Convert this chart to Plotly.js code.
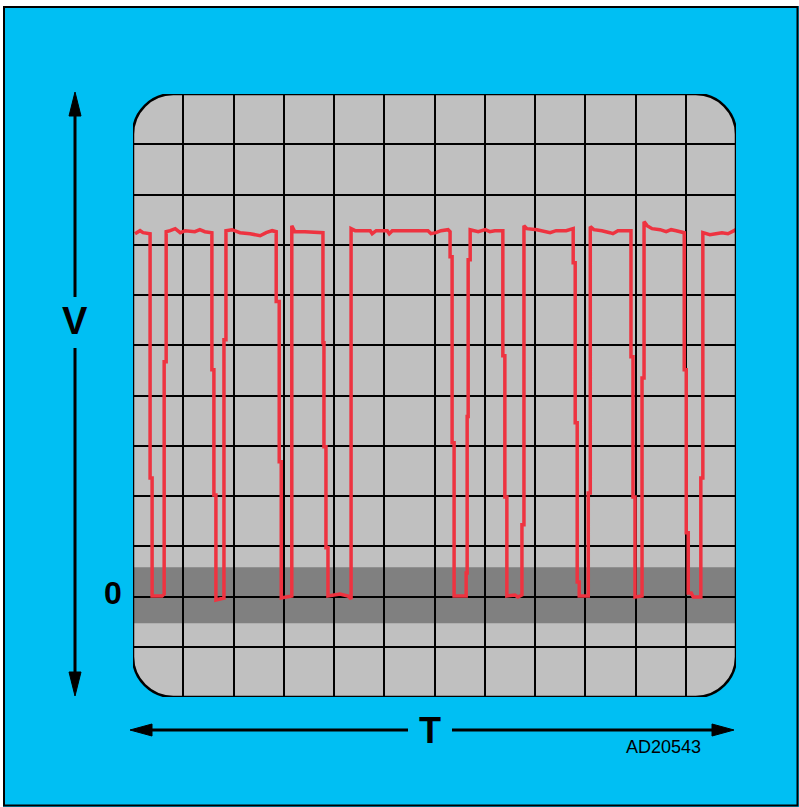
<!DOCTYPE html>
<html>
<head>
<meta charset="utf-8">
<script src="https://cdn.plot.ly/plotly-3.0.1.min.js"></script>
<style>html,body{margin:0;padding:0;background:#fff;}#chart{width:799px;height:807px;}</style>
</head>
<body>
<div id="chart"></div>
<script>
// Waveform samples, in screen divisions (x: 0..12, y: 0 = zero line)
const sigX = [0.04,0.14,0.20,0.34,0.34,0.38,0.38,0.58,0.62,0.62,0.66,0.66,0.74,0.84,0.94,1.04,1.23,1.33,1.43,1.57,
  1.57,1.61,1.61,1.65,1.65,1.81,1.81,1.85,1.85,1.97,2.13,2.33,2.53,2.65,2.77,2.85,2.85,2.91,2.91,2.95,
  2.95,3.16,3.16,3.22,3.42,3.62,3.78,3.78,3.80,3.80,3.84,3.84,3.88,3.88,4.12,4.28,4.34,4.34,4.42,4.72,
  4.76,4.84,5.06,5.10,5.16,5.87,5.93,6.03,6.13,6.27,6.31,6.31,6.35,6.35,6.39,6.39,6.63,6.63,6.65,6.65,
  6.67,6.67,6.71,6.71,6.87,7.01,7.10,7.20,7.36,7.36,7.40,7.40,7.44,7.44,7.60,7.66,7.74,7.74,7.78,7.78,
  7.84,8.04,8.20,8.30,8.42,8.62,8.76,8.76,8.80,8.80,8.84,8.84,8.88,8.88,9.06,9.06,9.10,9.10,9.17,9.33,
  9.49,9.55,9.65,9.91,9.91,9.95,9.95,9.99,9.99,10.13,10.13,10.17,10.17,10.23,10.33,10.49,10.61,10.71,10.81,10.97,
  10.97,11.01,11.01,11.05,11.05,11.11,11.15,11.30,11.30,11.34,11.34,11.48,11.60,11.72,11.84,11.94,12.0];
const sigY = [7.22,7.28,7.24,7.22,2.36,2.36,0.01,0.01,0.05,4.67,4.67,7.26,7.28,7.32,7.24,7.28,7.26,7.30,7.26,7.24,
  4.51,4.51,2.02,2.02,-0.07,-0.03,5.11,5.11,7.28,7.30,7.24,7.22,7.18,7.24,7.28,7.26,5.87,5.87,2.68,2.68,
  -0.03,0.01,7.38,7.26,7.26,7.24,7.24,5.05,5.05,2.98,2.98,0.97,0.97,0.01,0.05,0.01,-0.05,7.32,7.28,7.28,
  7.22,7.28,7.28,7.22,7.28,7.28,7.22,7.24,7.28,7.30,7.26,6.76,6.76,3.06,3.06,0.01,0.01,0.47,0.47,3.58,
  3.58,6.70,6.70,7.30,7.26,7.30,7.26,7.28,7.28,4.79,4.79,1.98,1.98,0.01,0.03,-0.01,0.03,1.43,1.43,7.38,
  7.32,7.30,7.26,7.24,7.28,7.28,7.32,6.64,6.64,3.46,3.46,0.29,0.29,0.01,0.01,2.06,2.06,7.36,7.30,7.28,
  7.24,7.22,7.28,7.28,4.77,4.77,1.98,1.98,-0.01,0.01,4.35,4.35,7.46,7.38,7.32,7.30,7.26,7.30,7.28,7.24,
  4.51,4.51,1.27,1.27,0.07,0.07,-0.01,-0.01,2.36,2.36,7.24,7.20,7.22,7.24,7.22,7.26,7.30];

// Screen geometry (divisions)
const xRange = [0, 12];
const yRange = [-2, 10];
const band = [-0.53, 0.58];
const cornerR = 0.8;

// Labels
const vLabel = 'V';
const zeroLabel = '0';
const tLabel = 'T';
const codeLabel = 'AD20543';

// pixel -> paper helpers (plot area is 133..736 x 94..697)
const L = 133, T = 94, S = 603;
const PX = p => (p - L) / S;
const PY = p => (T + S - p) / S;

const k = 0.5523 * cornerR;
const r = cornerR;
const x0 = xRange[0], x1 = xRange[1], y0 = yRange[0], y1 = yRange[1];
const screenPath = `M ${x0+r},${y1} L ${x1-r},${y1} C ${x1-r+k},${y1} ${x1},${y1-r+k} ${x1},${y1-r} ` +
  `L ${x1},${y0+r} C ${x1},${y0+r-k} ${x1-r+k},${y0} ${x1-r},${y0} ` +
  `L ${x0+r},${y0} C ${x0+r-k},${y0} ${x0},${y0+r-k} ${x0},${y0+r} ` +
  `L ${x0},${y1-r} C ${x0},${y1-r+k} ${x0+r-k},${y1} ${x0+r},${y1} Z`;
const e = 0.05;
const masks = [
  `M ${x0-e},${y1+e} L ${x0+r},${y1+e} L ${x0+r},${y1} C ${x0+r-k},${y1} ${x0},${y1-r+k} ${x0},${y1-r} L ${x0-e},${y1-r} Z`,
  `M ${x1+e},${y1+e} L ${x1-r},${y1+e} L ${x1-r},${y1} C ${x1-r+k},${y1} ${x1},${y1-r+k} ${x1},${y1-r} L ${x1+e},${y1-r} Z`,
  `M ${x0-e},${y0-e} L ${x0+r},${y0-e} L ${x0+r},${y0} C ${x0+r-k},${y0} ${x0},${y0+r-k} ${x0},${y0+r} L ${x0-e},${y0+r} Z`,
  `M ${x1+e},${y0-e} L ${x1-r},${y0-e} L ${x1-r},${y0} C ${x1-r+k},${y0} ${x1},${y0+r-k} ${x1},${y0+r} L ${x1+e},${y0+r} Z`
];

const CYAN = '#00BFF3';
const shapes = [];
// outer white strips and black frame
shapes.push({type:'rect', xref:'paper', yref:'paper', x0:PX(0), x1:PX(799), y0:PY(0), y1:PY(6), fillcolor:'#ffffff', line:{width:0}, layer:'below'});
shapes.push({type:'rect', xref:'paper', yref:'paper', x0:PX(0), x1:PX(3), y0:PY(0), y1:PY(807), fillcolor:'#ffffff', line:{width:0}, layer:'below'});
shapes.push({type:'rect', xref:'paper', yref:'paper', x0:PX(4), x1:PX(797.5), y0:PY(7), y1:PY(805.5), line:{color:'#000', width:2}, layer:'below'});
// dark band around zero
shapes.push({type:'rect', xref:'x', yref:'y', x0:x0, x1:x1, y0:band[0], y1:band[1], fillcolor:'#808080', line:{width:0}, layer:'below'});
// corner masks + outline
masks.forEach(p => shapes.push({type:'path', xref:'x', yref:'y', path:p, fillcolor:CYAN, line:{width:0}, layer:'above'}));
shapes.push({type:'path', xref:'x', yref:'y', path:screenPath, line:{color:'#000', width:2.5}, layer:'above'});

// arrows
const lineStyle = {color:'#000', width:3};
function seg(ax, ay, bx, by){ shapes.push({type:'line', xref:'paper', yref:'paper', x0:PX(ax), y0:PY(ay), x1:PX(bx), y1:PY(by), line:lineStyle}); }
function tri(pts){
  const d = 'M ' + pts.map(p => PX(p[0]) + ',' + PY(p[1])).join(' L ') + ' Z';
  shapes.push({type:'path', xref:'paper', yref:'paper', path:d, fillcolor:'#000', line:{color:'#000', width:1}});
}
seg(75, 110, 75, 297); seg(75, 348, 75, 678);
tri([[75,92],[69,116],[81,116]]);
tri([[75,696],[69,672],[81,672]]);
seg(150, 730, 408, 730); seg(452, 730, 714, 730);
tri([[130,730],[152,724],[152,736]]);
tri([[734,730],[712,724],[712,736]]);

const FONT = 'Liberation Sans, Arial, sans-serif';
const annotations = [
  {text:vLabel, xref:'paper', yref:'paper', x:PX(75), y:PY(321), showarrow:false, xanchor:'center', yanchor:'middle', font:{family:FONT, size:38, color:'#000', weight:'bold'}},
  {text:zeroLabel, xref:'paper', yref:'paper', x:PX(113), y:PY(593), showarrow:false, xanchor:'center', yanchor:'middle', font:{family:FONT, size:32, color:'#000', weight:'bold'}},
  {text:tLabel, xref:'paper', yref:'paper', x:PX(430), y:PY(730), showarrow:false, xanchor:'center', yanchor:'middle', font:{family:FONT, size:36, color:'#000', weight:'bold'}},
  {text:codeLabel, xref:'paper', yref:'paper', x:PX(663), y:PY(747), showarrow:false, xanchor:'center', yanchor:'middle', font:{family:FONT, size:18, color:'#000'}}
];

const trace = {x:sigX, y:sigY, type:'scatter', mode:'lines', line:{color:'#EE3340', width:3.5}, hoverinfo:'skip'};

const axisCommon = {showgrid:true, gridcolor:'#000', gridwidth:2, dtick:1, tick0:0, showticklabels:false, ticks:'', zeroline:false, showline:false, fixedrange:true};
const layout = {
  width:799, height:807,
  margin:{l:L, r:799-L-S, t:T, b:807-T-S, pad:0},
  paper_bgcolor:CYAN, plot_bgcolor:'#C0C0C0',
  xaxis:Object.assign({range:xRange}, axisCommon),
  yaxis:Object.assign({range:yRange}, axisCommon),
  showlegend:false,
  shapes:shapes, annotations:annotations
};
Plotly.newPlot('chart', [trace], layout, {displayModeBar:false, staticPlot:true});
</script>
</body>
</html>
